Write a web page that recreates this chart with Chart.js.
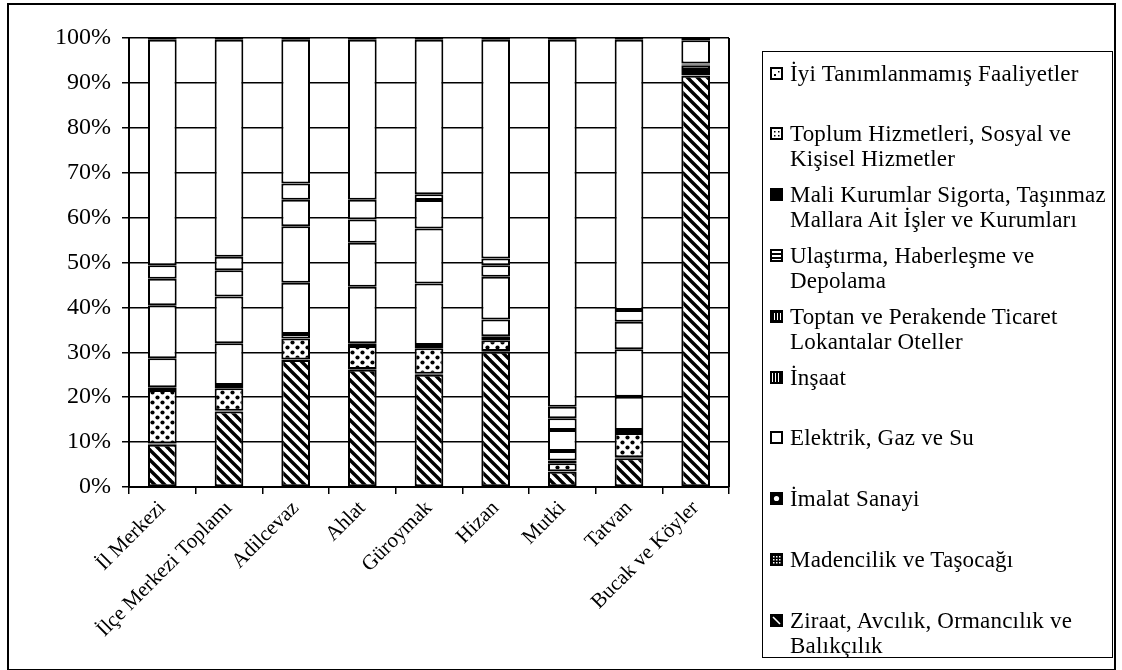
<!DOCTYPE html>
<html lang="tr">
<head>
<meta charset="utf-8">
<title>İstihdamın Sektörel Dağılımı</title>
<script src="https://cdn.jsdelivr.net/npm/chart.js@4.4.1/dist/chart.umd.min.js"></script>
<style>
  body { margin: 0; background: #fff; }
  #cerceve { position: absolute; left: 7px; top: 3px; width: 1109px; height: 668px; border: 2px solid #000; box-sizing: border-box; }
  #kutu { position: absolute; left: 0; top: 0; width: 1122px; height: 670px; }
  #leyenda { position: absolute; left: 762px; top: 51px; width: 351px; height: 607px; border: 1.5px solid #000; box-sizing: border-box; }
  .madde { position: absolute; left: 0; font-family: "Liberation Serif", "Times New Roman", serif; font-size: 23px; letter-spacing: 0.2px; line-height: 25px; color: #000; white-space: pre; }
  .madde canvas { position: absolute; left: 7px; top: 6px; }
  .madde span { position: absolute; left: 27px; top: 0; }
</style>
</head>
<body>
<div id="cerceve"></div>
<div id="kutu"><canvas id="grafico"></canvas></div>
<div id="leyenda"></div>
<script>
const kategoriler = ['İl Merkezi', 'İlçe Merkezi Toplamı', 'Adilcevaz', 'Ahlat', 'Güroymak', 'Hizan', 'Mutki', 'Tatvan', 'Bucak ve Köyler']

// yüzde paylar (alttan üste)
const ziraat     = [9.4, 16.8, 28.3, 26.1, 25.0, 30.1, 3.4, 6.4, 91.6]
const madencilik = [0.3, 0.2, 0.1, 0.2, 0.2, 0.2, 0.1, 0.2, 0.1]
const imalat     = [11.9, 5.0, 4.7, 5.1, 5.7, 2.4, 1.8, 5.4, 0.5]
const elektrik   = [0.6, 0.7, 1.0, 0.6, 0.7, 0.9, 0.6, 0.7, 0.2]
const insaat     = [6.5, 9.3, 11.4, 12.6, 13.7, 3.7, 2.1, 7.4, 0.5]
const toptan     = [11.8, 10.4, 12.6, 9.8, 12.3, 9.5, 4.7, 10.6, 0.9]
const ulastirma  = [5.9, 5.9, 5.9, 5.2, 6.3, 2.6, 2.6, 6.1, 0.3]
const mali       = [3.0, 3.0, 3.6, 4.4, 1.3, 1.5, 2.6, 2.6, 0.2]
const toplum     = [50.2, 48.3, 32.0, 35.6, 34.4, 48.7, 81.7, 60.2, 5.2]
const iyi        = [0.4, 0.4, 0.4, 0.4, 0.4, 0.4, 0.4, 0.4, 0.5]

const seriAdlari = [
    'Ziraat, Avcılık, Ormancılık ve\nBalıkçılık',
    'Madencilik ve Taşocağı',
    'İmalat Sanayi',
    'Elektrik, Gaz ve Su',
    'İnşaat',
    'Toptan ve Perakende Ticaret\nLokantalar Oteller',
    'Ulaştırma, Haberleşme ve\nDepolama',
    'Mali Kurumlar Sigorta, Taşınmaz\nMallara Ait İşler ve Kurumları',
    'Toplum Hizmetleri, Sosyal ve\nKişisel Hizmetler',
    'İyi Tanımlanmamış Faaliyetler'
]
const seriler = [ziraat, madencilik, imalat, elektrik, insaat, toptan, ulastirma, mali, toplum, iyi]
const yEtiketleri = ['0%', '10%', '20%', '30%', '40%', '50%', '60%', '70%', '80%', '90%', '100%']

function taramaDeseni() {
    const c = document.createElement('canvas')
    c.width = 10; c.height = 10
    const g = c.getContext('2d')
    g.fillStyle = '#fff'; g.fillRect(0, 0, 10, 10)
    g.strokeStyle = '#000'; g.lineWidth = 3.4
    for (const d of [-10, 0, 10]) {
        g.beginPath(); g.moveTo(d - 1, -1); g.lineTo(d + 11, 11); g.stroke()
    }
    return g.createPattern(c, 'repeat')
}

function noktaDeseni() {
    const c = document.createElement('canvas')
    c.width = 10; c.height = 10
    const g = c.getContext('2d')
    g.fillStyle = '#fff'; g.fillRect(0, 0, 10, 10)
    g.fillStyle = '#000'
    for (const [x, y] of [[2.5, 2.5], [7.5, 7.5]]) {
        g.beginPath(); g.arc(x, y, 2.1, 0, Math.PI * 2); g.fill()
    }
    return g.createPattern(c, 'repeat')
}

const dolgular = [taramaDeseni(), '#fff', noktaDeseni(), '#fff', '#fff', '#fff', '#fff', '#fff', '#fff', '#fff']

// lejant kutucukları
function kutucukCiz(g, i) {
    g.fillStyle = '#fff'; g.fillRect(0, 0, 13, 13)
    g.fillStyle = '#000'
    if (i === 0) { g.fillRect(0, 0, 13, 13); g.strokeStyle = '#fff'; g.lineWidth = 1.6; g.beginPath(); g.moveTo(3, 3); g.lineTo(10, 10); g.stroke() }
    if (i === 1) { g.fillRect(0, 0, 13, 13); g.fillStyle = '#fff'; for (let a = 3; a < 11; a += 3) for (let b = 3; b < 11; b += 3) g.fillRect(a, b, 1.5, 1.5) }
    if (i === 2) { g.fillRect(0, 0, 13, 13); g.fillStyle = '#fff'; g.beginPath(); g.arc(6.5, 6.5, 2.6, 0, Math.PI * 2); g.fill() }
    if (i === 4) { for (const a of [3, 6, 9]) g.fillRect(a, 2, 2, 9) }
    if (i === 5) { g.fillRect(0, 0, 13, 13); g.fillStyle = '#fff'; for (const a of [4, 7, 10]) g.fillRect(a, 3, 1, 7) }
    if (i === 6) { g.fillRect(2, 4, 9, 2); g.fillRect(2, 8, 9, 2) }
    if (i === 7) { g.fillRect(0, 0, 13, 13) }
    if (i === 8) { for (const [a, b] of [[4, 4], [8, 4], [4, 8], [8, 8]]) g.fillRect(a, b, 1.5, 1.5) }
    if (i === 9) { g.fillRect(4, 7, 2, 2); g.fillRect(8, 4, 1.5, 1.5) }
    g.strokeStyle = '#000'; g.lineWidth = 2
    g.strokeRect(1, 1, 11, 11)
}

const alanCercevesi = {
    id: 'alanCercevesi',
    afterDraw(chart) {
        const { ctx, chartArea } = chart
        ctx.save()
        ctx.strokeStyle = '#000'; ctx.lineWidth = 2
        ctx.beginPath(); ctx.moveTo(chartArea.right, chartArea.top); ctx.lineTo(chartArea.right, chartArea.bottom); ctx.stroke()
        ctx.restore()
    }
}

const grafik = new Chart(document.getElementById('grafico'), {
    type: 'bar',
    data: {
        labels: kategoriler,
        datasets: seriler.map((veri, i) => ({
            label: seriAdlari[i],
            data: veri,
            backgroundColor: dolgular[i],
            borderColor: '#000',
            borderWidth: 2,
            borderSkipped: false,
            barPercentage: 0.43,
            categoryPercentage: 1
        }))
    },
    options: {
        responsive: true,
        maintainAspectRatio: false,
        animation: false,
        layout: { padding: { top: 38, right: 393, bottom: 0, left: 0 } },
        plugins: { legend: { display: false }, tooltip: { enabled: false } },
        scales: {
            x: {
                stacked: true,
                afterFit: s => { s.height = 183 },
                grid: { display: true, drawOnChartArea: false, drawTicks: true, tickLength: 7, color: '#000', lineWidth: 1.5 },
                border: { color: '#000', width: 2 },
                ticks: { minRotation: 45, maxRotation: 45, color: '#000', padding: 2, font: { family: 'Liberation Serif', size: 21 } }
            },
            y: {
                stacked: true,
                min: 0,
                max: 100,
                afterFit: s => { s.width = 129 },
                grid: { color: '#000', lineWidth: 1.5, tickLength: 7 },
                border: { color: '#000', width: 2 },
                ticks: { stepSize: 10, padding: 11, color: '#000', font: { family: 'Liberation Serif', size: 24 }, callback: v => yEtiketleri[Math.round(v / 10)] }
            }
        }
    },
    plugins: [alanCercevesi]
})

// lejant: üstteki seri en üstte
const leyenda = document.getElementById('leyenda')
grafik.data.datasets.slice().reverse().forEach((ds, k) => {
    const i = seriler.length - 1 - k
    const madde = document.createElement('div')
    madde.className = 'madde'
    madde.style.top = (21 + 60.8 * k - 12.5) + 'px'
    const kc = document.createElement('canvas')
    kc.width = 13; kc.height = 13
    kutucukCiz(kc.getContext('2d'), i)
    const yazi = document.createElement('span')
    yazi.textContent = ds.label
    madde.appendChild(kc)
    madde.appendChild(yazi)
    leyenda.appendChild(madde)
})
</script>
</body>
</html>
